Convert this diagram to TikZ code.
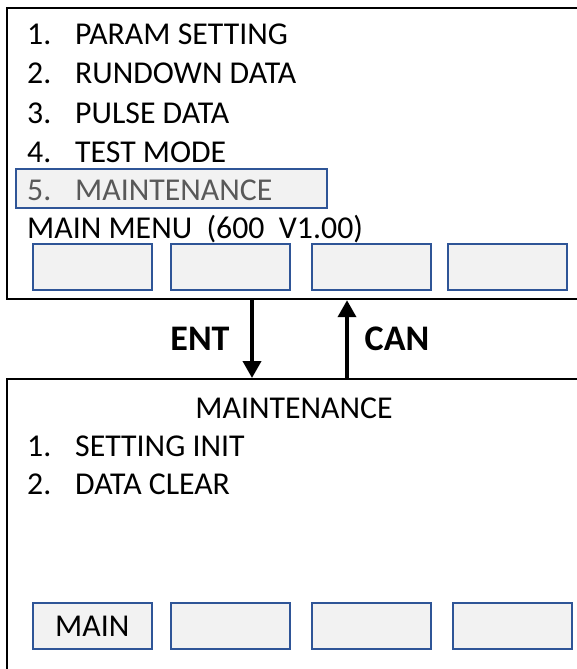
\documentclass[tikz,border=0pt]{standalone}
\usepackage{fontspec}
\setmainfont{Carlito}
\usetikzlibrary{arrows.meta}
\definecolor{btnblue}{RGB}{47,85,151}
\definecolor{btnfill}{RGB}{242,242,242}
\definecolor{dimtext}{RGB}{89,89,89}
\tikzset{
  screen/.style={draw=black, line width=2.2pt, fill=white, inner sep=0pt, anchor=north west},
  btn/.style={draw=btnblue, line width=1.6pt, fill=btnfill, inner sep=0pt, minimum width=119pt, minimum height=46pt, anchor=north west, font=\fontsize{31.8}{37}\selectfont},
  txt/.style={inner sep=0pt, anchor=base west, font=\fontsize{31.8}{37}\selectfont},
  ctxt/.style={inner sep=0pt, anchor=base, font=\fontsize{31.8}{37}\selectfont},
  btxt/.style={inner sep=0pt, anchor=base, font=\fontsize{36}{40}\selectfont\bfseries},
  arr/.style={line width=3.8pt, -{Triangle[width=18pt,length=17pt]}}
}
\begin{document}
\begin{tikzpicture}[x=1pt,y=-1pt]
\useasboundingbox (0,0) rectangle (577,669);
\clip (0,0) rectangle (577,669);
% top screen
\node[screen, minimum width=600pt, minimum height=291pt] (top) at (6,7) {};
\node[txt] (t1n) at (27,45) {1.};
\node[txt] (t1) at (75,45) {PARAM SETTING};
\node[txt] (t2n) at (27,84) {2.};
\node[txt] (t2) at (75,84) {RUNDOWN DATA};
\node[txt] (t3n) at (27,123) {3.};
\node[txt] (t3) at (75,123) {PULSE DATA};
\node[txt] (t4n) at (27,162) {4.};
\node[txt] (t4) at (75,162) {TEST MODE};
\node[draw=btnblue, line width=1.6pt, fill=btnfill, inner sep=0pt, minimum width=311pt, minimum height=39pt, anchor=north west] (hl) at (15,168) {};
\node[txt, text=dimtext] (t5n) at (27,200) {5.};
\node[txt, text=dimtext] (t5) at (75,200) {MAINTENANCE};
\node[txt] (mm) at (27,238) {MAIN MENU\ \ (600\ \ V1.00)};
\node[btn] (b1) at (32,243) {};
\node[btn] (b2) at (170,243) {};
\node[btn] (b3) at (311,243) {};
\node[btn] (b4) at (447,243) {};
% bottom screen
\node[screen, minimum width=600pt, minimum height=320pt] (bot) at (6,378) {};
\node[ctxt] (mt) at (294,418) {MAINTENANCE};
\node[txt] (m1n) at (27,456) {1.};
\node[txt] (m1) at (75,456) {SETTING INIT};
\node[txt] (m2n) at (27,494) {2.};
\node[txt] (m2) at (75,494) {DATA CLEAR};
\node[btn] (c1) at (32,602) {MAIN};
\node[btn] (c2) at (170,602) {};
\node[btn] (c3) at (311,602) {};
\node[btn] (c4) at (452,602) {};
% arrows
\coordinate (entx) at (252,0);
\coordinate (canx) at (347,0);
\draw[arr] (top.south -| entx) -- (bot.north -| entx);
\draw[arr] (bot.north -| canx) -- (top.south -| canx);
\node[btxt] (ent) at (200,350) {ENT};
\node[btxt] (can) at (397,350) {CAN};
\end{tikzpicture}
\end{document}
